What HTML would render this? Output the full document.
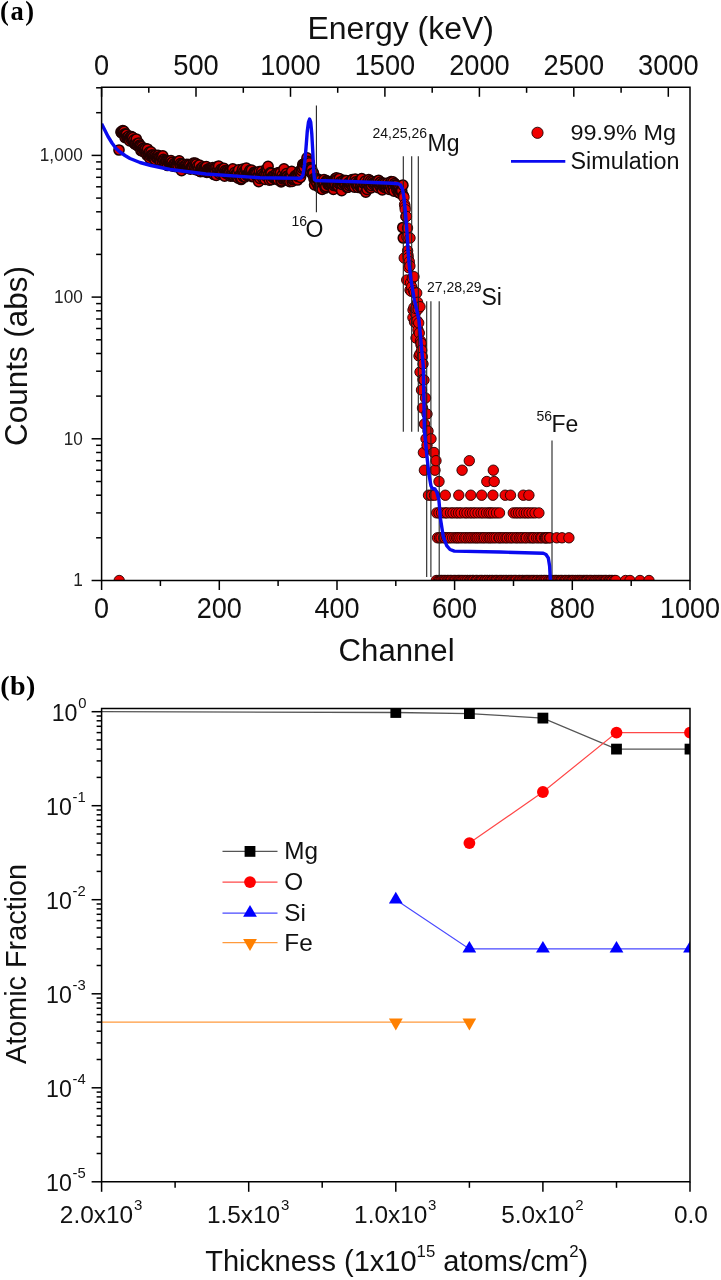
<!DOCTYPE html>
<html><head><meta charset="utf-8"><title>Figure</title>
<style>html,body{margin:0;padding:0;background:#fff}svg{display:block;filter:blur(0.45px)}</style>
</head><body>
<svg width="721" height="1280" viewBox="0 0 721 1280">
<rect width="721" height="1280" fill="#fff"/>
<defs>
<clipPath id="ca"><rect x="101.6" y="87.3" width="588.4" height="493.2"/></clipPath>
</defs>
<text x="0" y="20.3" letter-spacing="1.6" font-family="Liberation Serif, serif" font-weight="bold" font-size="26.5" fill="#000">(a)</text>
<text x="0.2" y="695.3" letter-spacing="0.5" font-family="Liberation Serif, serif" font-weight="bold" font-size="28" fill="#000">(b)</text>
<g clip-path="url(#ca)">
<g fill="#ee0000" stroke="#200000" stroke-width="0.9">
<circle cx="119.0" cy="150.0" r="5.1" stroke-width="1.5" fill="#d80000"/>
<circle cx="119.2" cy="580.5" r="5.2"/>
<circle cx="121.0" cy="132.0" r="5.1" stroke-width="1.5" fill="#d80000"/>
<circle cx="121.6" cy="132.8" r="5.1" stroke-width="1.5" fill="#d80000"/>
<circle cx="122.2" cy="131.7" r="5.1" stroke-width="1.5" fill="#d80000"/>
<circle cx="122.8" cy="130.5" r="5.1" stroke-width="1.5" fill="#d80000"/>
<circle cx="123.4" cy="131.9" r="5.1" stroke-width="1.5" fill="#d80000"/>
<circle cx="124.0" cy="131.3" r="5.1" stroke-width="1.5" fill="#d80000"/>
<circle cx="124.5" cy="134.2" r="5.1" stroke-width="1.5" fill="#d80000"/>
<circle cx="125.1" cy="137.6" r="5.1" stroke-width="1.5" fill="#d80000"/>
<circle cx="125.7" cy="134.1" r="5.1" stroke-width="1.5" fill="#d80000"/>
<circle cx="126.3" cy="134.4" r="5.1" stroke-width="1.5" fill="#d80000"/>
<circle cx="126.9" cy="137.5" r="5.1" stroke-width="1.5" fill="#d80000"/>
<circle cx="127.5" cy="137.8" r="5.1" stroke-width="1.5" fill="#d80000"/>
<circle cx="128.1" cy="137.8" r="5.1" stroke-width="1.5" fill="#d80000"/>
<circle cx="128.7" cy="136.1" r="5.1" stroke-width="1.5" fill="#d80000"/>
<circle cx="129.3" cy="138.7" r="5.1" stroke-width="1.5" fill="#d80000"/>
<circle cx="129.8" cy="140.9" r="5.1" stroke-width="1.5" fill="#d80000"/>
<circle cx="130.4" cy="136.9" r="5.1" stroke-width="1.5" fill="#d80000"/>
<circle cx="131.0" cy="139.3" r="5.1" stroke-width="1.5" fill="#d80000"/>
<circle cx="131.6" cy="136.6" r="5.1" stroke-width="1.5" fill="#d80000"/>
<circle cx="132.2" cy="138.4" r="5.1" stroke-width="1.5" fill="#d80000"/>
<circle cx="132.8" cy="137.7" r="5.1" stroke-width="1.5" fill="#d80000"/>
<circle cx="133.4" cy="141.7" r="5.1" stroke-width="1.5" fill="#d80000"/>
<circle cx="134.0" cy="139.9" r="5.1" stroke-width="1.5" fill="#d80000"/>
<circle cx="134.6" cy="143.7" r="5.1" stroke-width="1.5" fill="#d80000"/>
<circle cx="135.1" cy="144.0" r="5.1" stroke-width="1.5" fill="#d80000"/>
<circle cx="135.7" cy="143.7" r="5.1" stroke-width="1.5" fill="#d80000"/>
<circle cx="136.3" cy="139.0" r="5.1" stroke-width="1.5" fill="#d80000"/>
<circle cx="136.9" cy="143.8" r="5.1" stroke-width="1.5" fill="#d80000"/>
<circle cx="137.5" cy="145.4" r="5.1" stroke-width="1.5" fill="#d80000"/>
<circle cx="138.1" cy="146.2" r="5.1" stroke-width="1.5" fill="#d80000"/>
<circle cx="138.7" cy="143.1" r="5.1" stroke-width="1.5" fill="#d80000"/>
<circle cx="139.3" cy="145.9" r="5.1" stroke-width="1.5" fill="#d80000"/>
<circle cx="139.8" cy="145.2" r="5.1" stroke-width="1.5" fill="#d80000"/>
<circle cx="140.4" cy="146.0" r="5.1" stroke-width="1.5" fill="#d80000"/>
<circle cx="141.0" cy="150.5" r="5.1" stroke-width="1.5" fill="#d80000"/>
<circle cx="141.6" cy="146.8" r="5.1" stroke-width="1.5" fill="#d80000"/>
<circle cx="142.2" cy="148.9" r="5.1" stroke-width="1.5" fill="#d80000"/>
<circle cx="142.8" cy="151.3" r="5.1" stroke-width="1.5" fill="#d80000"/>
<circle cx="143.4" cy="148.4" r="5.1" stroke-width="1.5" fill="#d80000"/>
<circle cx="144.0" cy="149.8" r="5.1" stroke-width="1.5" fill="#d80000"/>
<circle cx="144.6" cy="150.7" r="5.1" stroke-width="1.5" fill="#d80000"/>
<circle cx="145.1" cy="151.0" r="5.1" stroke-width="1.5" fill="#d80000"/>
<circle cx="145.7" cy="148.5" r="5.1" stroke-width="1.5" fill="#d80000"/>
<circle cx="146.3" cy="151.8" r="5.1" stroke-width="1.5" fill="#d80000"/>
<circle cx="146.9" cy="155.0" r="5.1" stroke-width="1.5" fill="#d80000"/>
<circle cx="147.5" cy="149.0" r="5.1" stroke-width="1.5" fill="#d80000"/>
<circle cx="148.1" cy="154.6" r="5.1" stroke-width="1.5" fill="#d80000"/>
<circle cx="148.7" cy="153.4" r="5.1" stroke-width="1.5" fill="#d80000"/>
<circle cx="149.3" cy="152.1" r="5.1" stroke-width="1.5" fill="#d80000"/>
<circle cx="149.8" cy="158.3" r="5.1" stroke-width="1.5" fill="#d80000"/>
<circle cx="150.4" cy="155.9" r="5.1" stroke-width="1.5" fill="#d80000"/>
<circle cx="151.0" cy="151.9" r="5.1" stroke-width="1.5" fill="#d80000"/>
<circle cx="151.6" cy="155.0" r="5.1" stroke-width="1.5" fill="#d80000"/>
<circle cx="152.2" cy="156.4" r="5.1" stroke-width="1.5" fill="#d80000"/>
<circle cx="152.8" cy="155.0" r="5.1" stroke-width="1.5" fill="#d80000"/>
<circle cx="153.4" cy="157.2" r="5.1" stroke-width="1.5" fill="#d80000"/>
<circle cx="154.0" cy="155.8" r="5.1" stroke-width="1.5" fill="#d80000"/>
<circle cx="154.6" cy="157.7" r="5.1" stroke-width="1.5" fill="#d80000"/>
<circle cx="155.1" cy="159.7" r="5.1" stroke-width="1.5" fill="#d80000"/>
<circle cx="155.7" cy="155.4" r="5.1" stroke-width="1.5" fill="#d80000"/>
<circle cx="156.3" cy="157.6" r="5.1" stroke-width="1.5" fill="#d80000"/>
<circle cx="156.9" cy="156.4" r="5.1" stroke-width="1.5" fill="#d80000"/>
<circle cx="157.5" cy="158.0" r="5.1" stroke-width="1.5" fill="#d80000"/>
<circle cx="158.1" cy="155.4" r="5.1" stroke-width="1.5" fill="#d80000"/>
<circle cx="158.7" cy="157.1" r="5.1" stroke-width="1.5" fill="#d80000"/>
<circle cx="159.3" cy="158.2" r="5.1" stroke-width="1.5" fill="#d80000"/>
<circle cx="159.9" cy="160.9" r="5.1" stroke-width="1.5" fill="#d80000"/>
<circle cx="160.4" cy="161.7" r="5.1" stroke-width="1.5" fill="#d80000"/>
<circle cx="161.0" cy="156.5" r="5.1" stroke-width="1.5" fill="#d80000"/>
<circle cx="161.6" cy="157.9" r="5.1" stroke-width="1.5" fill="#d80000"/>
<circle cx="162.2" cy="161.4" r="5.1" stroke-width="1.5" fill="#d80000"/>
<circle cx="162.8" cy="155.8" r="5.1" stroke-width="1.5" fill="#d80000"/>
<circle cx="163.4" cy="159.4" r="5.1" stroke-width="1.5" fill="#d80000"/>
<circle cx="164.0" cy="160.5" r="5.1" stroke-width="1.5" fill="#d80000"/>
<circle cx="164.6" cy="163.7" r="5.1" stroke-width="1.5" fill="#d80000"/>
<circle cx="165.1" cy="162.7" r="5.1" stroke-width="1.5" fill="#d80000"/>
<circle cx="165.7" cy="160.7" r="5.1" stroke-width="1.5" fill="#d80000"/>
<circle cx="166.3" cy="160.9" r="5.1" stroke-width="1.5" fill="#d80000"/>
<circle cx="166.9" cy="161.4" r="5.1" stroke-width="1.5" fill="#d80000"/>
<circle cx="167.5" cy="165.5" r="5.1" stroke-width="1.5" fill="#d80000"/>
<circle cx="168.1" cy="161.4" r="5.1" stroke-width="1.5" fill="#d80000"/>
<circle cx="168.7" cy="161.8" r="5.1" stroke-width="1.5" fill="#d80000"/>
<circle cx="169.3" cy="163.4" r="5.1" stroke-width="1.5" fill="#d80000"/>
<circle cx="169.9" cy="162.5" r="5.1" stroke-width="1.5" fill="#d80000"/>
<circle cx="170.4" cy="162.5" r="5.1" stroke-width="1.5" fill="#d80000"/>
<circle cx="171.0" cy="160.6" r="5.1" stroke-width="1.5" fill="#d80000"/>
<circle cx="171.6" cy="163.2" r="5.1" stroke-width="1.5" fill="#d80000"/>
<circle cx="172.2" cy="162.4" r="5.1" stroke-width="1.5" fill="#d80000"/>
<circle cx="172.8" cy="166.1" r="5.1" stroke-width="1.5" fill="#d80000"/>
<circle cx="173.4" cy="165.2" r="5.1" stroke-width="1.5" fill="#d80000"/>
<circle cx="174.0" cy="163.8" r="5.1" stroke-width="1.5" fill="#d80000"/>
<circle cx="174.6" cy="165.5" r="5.1" stroke-width="1.5" fill="#d80000"/>
<circle cx="175.1" cy="163.4" r="5.1" stroke-width="1.5" fill="#d80000"/>
<circle cx="175.7" cy="166.7" r="5.1" stroke-width="1.5" fill="#d80000"/>
<circle cx="176.3" cy="164.5" r="5.1" stroke-width="1.5" fill="#d80000"/>
<circle cx="176.9" cy="166.0" r="5.1" stroke-width="1.5" fill="#d80000"/>
<circle cx="177.5" cy="162.0" r="5.1" stroke-width="1.5" fill="#d80000"/>
<circle cx="178.1" cy="165.7" r="5.1" stroke-width="1.5" fill="#d80000"/>
<circle cx="178.7" cy="161.4" r="5.1" stroke-width="1.5" fill="#d80000"/>
<circle cx="179.3" cy="160.8" r="5.1" stroke-width="1.5" fill="#d80000"/>
<circle cx="179.9" cy="164.8" r="5.1" stroke-width="1.5" fill="#d80000"/>
<circle cx="180.4" cy="163.6" r="5.1" stroke-width="1.5" fill="#d80000"/>
<circle cx="181.0" cy="166.0" r="5.1" stroke-width="1.5" fill="#d80000"/>
<circle cx="181.6" cy="170.7" r="5.1" stroke-width="1.5" fill="#d80000"/>
<circle cx="182.2" cy="164.0" r="5.1" stroke-width="1.5" fill="#d80000"/>
<circle cx="182.8" cy="164.5" r="5.1" stroke-width="1.5" fill="#d80000"/>
<circle cx="183.4" cy="166.5" r="5.1" stroke-width="1.5" fill="#d80000"/>
<circle cx="184.0" cy="167.2" r="5.1" stroke-width="1.5" fill="#d80000"/>
<circle cx="184.6" cy="165.8" r="5.1" stroke-width="1.5" fill="#d80000"/>
<circle cx="185.2" cy="165.8" r="5.1" stroke-width="1.5" fill="#d80000"/>
<circle cx="185.7" cy="167.9" r="5.1" stroke-width="1.5" fill="#d80000"/>
<circle cx="186.3" cy="167.6" r="5.1" stroke-width="1.5" fill="#d80000"/>
<circle cx="186.9" cy="164.3" r="5.1" stroke-width="1.5" fill="#d80000"/>
<circle cx="187.5" cy="166.5" r="5.1" stroke-width="1.5" fill="#d80000"/>
<circle cx="188.1" cy="166.8" r="5.1" stroke-width="1.5" fill="#d80000"/>
<circle cx="188.7" cy="164.5" r="5.1" stroke-width="1.5" fill="#d80000"/>
<circle cx="189.3" cy="167.5" r="5.1" stroke-width="1.5" fill="#d80000"/>
<circle cx="189.9" cy="165.1" r="5.1" stroke-width="1.5" fill="#d80000"/>
<circle cx="190.4" cy="169.2" r="5.1" stroke-width="1.5" fill="#d80000"/>
<circle cx="191.0" cy="167.6" r="5.1" stroke-width="1.5" fill="#d80000"/>
<circle cx="191.6" cy="167.4" r="5.1" stroke-width="1.5" fill="#d80000"/>
<circle cx="192.2" cy="166.0" r="5.1" stroke-width="1.5" fill="#d80000"/>
<circle cx="192.8" cy="167.2" r="5.1" stroke-width="1.5" fill="#d80000"/>
<circle cx="193.4" cy="163.1" r="5.1" stroke-width="1.5" fill="#d80000"/>
<circle cx="194.0" cy="165.1" r="5.1" stroke-width="1.5" fill="#d80000"/>
<circle cx="194.6" cy="168.5" r="5.1" stroke-width="1.5" fill="#d80000"/>
<circle cx="195.2" cy="163.1" r="5.1" stroke-width="1.5" fill="#d80000"/>
<circle cx="195.7" cy="169.7" r="5.1" stroke-width="1.5" fill="#d80000"/>
<circle cx="196.3" cy="164.1" r="5.1" stroke-width="1.5" fill="#d80000"/>
<circle cx="196.9" cy="169.7" r="5.1" stroke-width="1.5" fill="#d80000"/>
<circle cx="197.5" cy="166.3" r="5.1" stroke-width="1.5" fill="#d80000"/>
<circle cx="198.1" cy="169.9" r="5.1" stroke-width="1.5" fill="#d80000"/>
<circle cx="198.7" cy="168.6" r="5.1" stroke-width="1.5" fill="#d80000"/>
<circle cx="199.3" cy="165.0" r="5.1" stroke-width="1.5" fill="#d80000"/>
<circle cx="199.9" cy="171.2" r="5.1" stroke-width="1.5" fill="#d80000"/>
<circle cx="200.5" cy="171.7" r="5.1" stroke-width="1.5" fill="#d80000"/>
<circle cx="201.0" cy="168.5" r="5.1" stroke-width="1.5" fill="#d80000"/>
<circle cx="201.6" cy="168.2" r="5.1" stroke-width="1.5" fill="#d80000"/>
<circle cx="202.2" cy="168.5" r="5.1" stroke-width="1.5" fill="#d80000"/>
<circle cx="202.8" cy="166.8" r="5.1" stroke-width="1.5" fill="#d80000"/>
<circle cx="203.4" cy="171.5" r="5.1" stroke-width="1.5" fill="#d80000"/>
<circle cx="204.0" cy="168.0" r="5.1" stroke-width="1.5" fill="#d80000"/>
<circle cx="204.6" cy="169.1" r="5.1" stroke-width="1.5" fill="#d80000"/>
<circle cx="205.2" cy="167.6" r="5.1" stroke-width="1.5" fill="#d80000"/>
<circle cx="205.7" cy="168.1" r="5.1" stroke-width="1.5" fill="#d80000"/>
<circle cx="206.3" cy="166.7" r="5.1" stroke-width="1.5" fill="#d80000"/>
<circle cx="206.9" cy="172.4" r="5.1" stroke-width="1.5" fill="#d80000"/>
<circle cx="207.5" cy="169.4" r="5.1" stroke-width="1.5" fill="#d80000"/>
<circle cx="208.1" cy="172.0" r="5.1" stroke-width="1.5" fill="#d80000"/>
<circle cx="208.7" cy="170.0" r="5.1" stroke-width="1.5" fill="#d80000"/>
<circle cx="209.3" cy="168.5" r="5.1" stroke-width="1.5" fill="#d80000"/>
<circle cx="209.9" cy="169.4" r="5.1" stroke-width="1.5" fill="#d80000"/>
<circle cx="210.5" cy="169.0" r="5.1" stroke-width="1.5" fill="#d80000"/>
<circle cx="211.0" cy="170.4" r="5.1" stroke-width="1.5" fill="#d80000"/>
<circle cx="211.6" cy="169.6" r="5.1" stroke-width="1.5" fill="#d80000"/>
<circle cx="212.2" cy="169.9" r="5.1" stroke-width="1.5" fill="#d80000"/>
<circle cx="212.8" cy="167.6" r="5.1" stroke-width="1.5" fill="#d80000"/>
<circle cx="213.4" cy="169.0" r="5.1" stroke-width="1.5" fill="#d80000"/>
<circle cx="214.0" cy="174.5" r="5.1" stroke-width="1.5" fill="#d80000"/>
<circle cx="214.6" cy="169.5" r="5.1" stroke-width="1.5" fill="#d80000"/>
<circle cx="215.2" cy="167.9" r="5.1" stroke-width="1.5" fill="#d80000"/>
<circle cx="215.7" cy="172.1" r="5.1" stroke-width="1.5" fill="#d80000"/>
<circle cx="216.3" cy="175.4" r="5.1" stroke-width="1.5" fill="#d80000"/>
<circle cx="216.9" cy="166.9" r="5.1" stroke-width="1.5" fill="#d80000"/>
<circle cx="217.5" cy="170.7" r="5.1" stroke-width="1.5" fill="#d80000"/>
<circle cx="218.1" cy="169.4" r="5.1" stroke-width="1.5" fill="#d80000"/>
<circle cx="218.7" cy="166.1" r="5.1" stroke-width="1.5" fill="#d80000"/>
<circle cx="219.3" cy="173.7" r="5.1" stroke-width="1.5" fill="#d80000"/>
<circle cx="219.9" cy="171.5" r="5.1" stroke-width="1.5" fill="#d80000"/>
<circle cx="220.5" cy="171.8" r="5.1" stroke-width="1.5" fill="#d80000"/>
<circle cx="221.0" cy="169.4" r="5.1" stroke-width="1.5" fill="#d80000"/>
<circle cx="221.6" cy="173.1" r="5.1" stroke-width="1.5" fill="#d80000"/>
<circle cx="222.2" cy="170.2" r="5.1" stroke-width="1.5" fill="#d80000"/>
<circle cx="222.8" cy="171.4" r="5.1" stroke-width="1.5" fill="#d80000"/>
<circle cx="223.4" cy="168.6" r="5.1" stroke-width="1.5" fill="#d80000"/>
<circle cx="224.0" cy="168.4" r="5.1" stroke-width="1.5" fill="#d80000"/>
<circle cx="224.6" cy="176.1" r="5.1" stroke-width="1.5" fill="#d80000"/>
<circle cx="225.2" cy="170.6" r="5.1" stroke-width="1.5" fill="#d80000"/>
<circle cx="225.8" cy="173.1" r="5.1" stroke-width="1.5" fill="#d80000"/>
<circle cx="226.3" cy="172.2" r="5.1" stroke-width="1.5" fill="#d80000"/>
<circle cx="226.9" cy="171.0" r="5.1" stroke-width="1.5" fill="#d80000"/>
<circle cx="227.5" cy="170.9" r="5.1" stroke-width="1.5" fill="#d80000"/>
<circle cx="228.1" cy="174.3" r="5.1" stroke-width="1.5" fill="#d80000"/>
<circle cx="228.7" cy="171.6" r="5.1" stroke-width="1.5" fill="#d80000"/>
<circle cx="229.3" cy="172.1" r="5.1" stroke-width="1.5" fill="#d80000"/>
<circle cx="229.9" cy="172.7" r="5.1" stroke-width="1.5" fill="#d80000"/>
<circle cx="230.5" cy="176.2" r="5.1" stroke-width="1.5" fill="#d80000"/>
<circle cx="231.0" cy="174.8" r="5.1" stroke-width="1.5" fill="#d80000"/>
<circle cx="231.6" cy="174.0" r="5.1" stroke-width="1.5" fill="#d80000"/>
<circle cx="232.2" cy="171.2" r="5.1" stroke-width="1.5" fill="#d80000"/>
<circle cx="232.8" cy="168.8" r="5.1" stroke-width="1.5" fill="#d80000"/>
<circle cx="233.4" cy="175.9" r="5.1" stroke-width="1.5" fill="#d80000"/>
<circle cx="234.0" cy="176.0" r="5.1" stroke-width="1.5" fill="#d80000"/>
<circle cx="234.6" cy="172.7" r="5.1" stroke-width="1.5" fill="#d80000"/>
<circle cx="235.2" cy="174.9" r="5.1" stroke-width="1.5" fill="#d80000"/>
<circle cx="235.8" cy="175.6" r="5.1" stroke-width="1.5" fill="#d80000"/>
<circle cx="236.3" cy="175.9" r="5.1" stroke-width="1.5" fill="#d80000"/>
<circle cx="236.9" cy="176.2" r="5.1" stroke-width="1.5" fill="#d80000"/>
<circle cx="237.5" cy="172.1" r="5.1" stroke-width="1.5" fill="#d80000"/>
<circle cx="238.1" cy="178.1" r="5.1" stroke-width="1.5" fill="#d80000"/>
<circle cx="238.7" cy="169.9" r="5.1" stroke-width="1.5" fill="#d80000"/>
<circle cx="239.3" cy="176.3" r="5.1" stroke-width="1.5" fill="#d80000"/>
<circle cx="239.9" cy="175.2" r="5.1" stroke-width="1.5" fill="#d80000"/>
<circle cx="240.5" cy="176.4" r="5.1" stroke-width="1.5" fill="#d80000"/>
<circle cx="241.1" cy="179.5" r="5.1" stroke-width="1.5" fill="#d80000"/>
<circle cx="241.6" cy="178.4" r="5.1" stroke-width="1.5" fill="#d80000"/>
<circle cx="242.2" cy="170.6" r="5.1" stroke-width="1.5" fill="#d80000"/>
<circle cx="242.8" cy="169.0" r="5.1" stroke-width="1.5" fill="#d80000"/>
<circle cx="243.4" cy="176.6" r="5.1" stroke-width="1.5" fill="#d80000"/>
<circle cx="244.0" cy="171.1" r="5.1" stroke-width="1.5" fill="#d80000"/>
<circle cx="244.6" cy="174.2" r="5.1" stroke-width="1.5" fill="#d80000"/>
<circle cx="245.2" cy="176.8" r="5.1" stroke-width="1.5" fill="#d80000"/>
<circle cx="245.8" cy="169.5" r="5.1" stroke-width="1.5" fill="#d80000"/>
<circle cx="246.3" cy="168.1" r="5.1" stroke-width="1.5" fill="#d80000"/>
<circle cx="246.9" cy="175.3" r="5.1" stroke-width="1.5" fill="#d80000"/>
<circle cx="247.5" cy="174.7" r="5.1" stroke-width="1.5" fill="#d80000"/>
<circle cx="248.1" cy="173.9" r="5.1" stroke-width="1.5" fill="#d80000"/>
<circle cx="248.7" cy="174.8" r="5.1" stroke-width="1.5" fill="#d80000"/>
<circle cx="249.3" cy="172.2" r="5.1" stroke-width="1.5" fill="#d80000"/>
<circle cx="249.9" cy="170.3" r="5.1" stroke-width="1.5" fill="#d80000"/>
<circle cx="250.5" cy="174.4" r="5.1" stroke-width="1.5" fill="#d80000"/>
<circle cx="251.1" cy="172.0" r="5.1" stroke-width="1.5" fill="#d80000"/>
<circle cx="251.6" cy="170.1" r="5.1" stroke-width="1.5" fill="#d80000"/>
<circle cx="252.2" cy="176.6" r="5.1" stroke-width="1.5" fill="#d80000"/>
<circle cx="252.8" cy="175.0" r="5.1" stroke-width="1.5" fill="#d80000"/>
<circle cx="253.4" cy="176.4" r="5.1" stroke-width="1.5" fill="#d80000"/>
<circle cx="254.0" cy="172.3" r="5.1" stroke-width="1.5" fill="#d80000"/>
<circle cx="254.6" cy="173.4" r="5.1" stroke-width="1.5" fill="#d80000"/>
<circle cx="255.2" cy="172.4" r="5.1" stroke-width="1.5" fill="#d80000"/>
<circle cx="255.8" cy="172.8" r="5.1" stroke-width="1.5" fill="#d80000"/>
<circle cx="256.3" cy="176.1" r="5.1" stroke-width="1.5" fill="#d80000"/>
<circle cx="256.9" cy="173.2" r="5.1" stroke-width="1.5" fill="#d80000"/>
<circle cx="257.5" cy="176.6" r="5.1" stroke-width="1.5" fill="#d80000"/>
<circle cx="258.1" cy="176.6" r="5.1" stroke-width="1.5" fill="#d80000"/>
<circle cx="258.7" cy="181.7" r="5.1" stroke-width="1.5" fill="#d80000"/>
<circle cx="259.3" cy="171.5" r="5.1" stroke-width="1.5" fill="#d80000"/>
<circle cx="259.9" cy="178.3" r="5.1" stroke-width="1.5" fill="#d80000"/>
<circle cx="260.5" cy="175.4" r="5.1" stroke-width="1.5" fill="#d80000"/>
<circle cx="261.1" cy="175.7" r="5.1" stroke-width="1.5" fill="#d80000"/>
<circle cx="261.6" cy="171.4" r="5.1" stroke-width="1.5" fill="#d80000"/>
<circle cx="262.2" cy="174.4" r="5.1" stroke-width="1.5" fill="#d80000"/>
<circle cx="262.8" cy="178.0" r="5.1" stroke-width="1.5" fill="#d80000"/>
<circle cx="263.4" cy="175.6" r="5.1" stroke-width="1.5" fill="#d80000"/>
<circle cx="264.0" cy="176.1" r="5.1" stroke-width="1.5" fill="#d80000"/>
<circle cx="264.6" cy="175.0" r="5.1" stroke-width="1.5" fill="#d80000"/>
<circle cx="265.2" cy="179.4" r="5.1" stroke-width="1.5" fill="#d80000"/>
<circle cx="265.8" cy="175.9" r="5.1" stroke-width="1.5" fill="#d80000"/>
<circle cx="266.4" cy="169.4" r="5.1" stroke-width="1.5" fill="#d80000"/>
<circle cx="266.9" cy="173.9" r="5.1" stroke-width="1.5" fill="#d80000"/>
<circle cx="267.5" cy="170.1" r="5.1" stroke-width="1.5" fill="#d80000"/>
<circle cx="268.1" cy="166.3" r="5.1" stroke-width="1.5" fill="#d80000"/>
<circle cx="268.7" cy="174.5" r="5.1" stroke-width="1.5" fill="#d80000"/>
<circle cx="269.3" cy="180.1" r="5.1" stroke-width="1.5" fill="#d80000"/>
<circle cx="269.9" cy="176.3" r="5.1" stroke-width="1.5" fill="#d80000"/>
<circle cx="270.5" cy="172.6" r="5.1" stroke-width="1.5" fill="#d80000"/>
<circle cx="271.1" cy="173.3" r="5.1" stroke-width="1.5" fill="#d80000"/>
<circle cx="271.6" cy="179.6" r="5.1" stroke-width="1.5" fill="#d80000"/>
<circle cx="272.2" cy="176.7" r="5.1" stroke-width="1.5" fill="#d80000"/>
<circle cx="272.8" cy="176.4" r="5.1" stroke-width="1.5" fill="#d80000"/>
<circle cx="273.4" cy="176.1" r="5.1" stroke-width="1.5" fill="#d80000"/>
<circle cx="274.0" cy="176.4" r="5.1" stroke-width="1.5" fill="#d80000"/>
<circle cx="274.6" cy="178.7" r="5.1" stroke-width="1.5" fill="#d80000"/>
<circle cx="275.2" cy="178.0" r="5.1" stroke-width="1.5" fill="#d80000"/>
<circle cx="275.8" cy="177.0" r="5.1" stroke-width="1.5" fill="#d80000"/>
<circle cx="276.4" cy="173.3" r="5.1" stroke-width="1.5" fill="#d80000"/>
<circle cx="276.9" cy="178.0" r="5.1" stroke-width="1.5" fill="#d80000"/>
<circle cx="277.5" cy="174.4" r="5.1" stroke-width="1.5" fill="#d80000"/>
<circle cx="278.1" cy="179.8" r="5.1" stroke-width="1.5" fill="#d80000"/>
<circle cx="278.7" cy="172.7" r="5.1" stroke-width="1.5" fill="#d80000"/>
<circle cx="279.3" cy="176.1" r="5.1" stroke-width="1.5" fill="#d80000"/>
<circle cx="279.9" cy="176.5" r="5.1" stroke-width="1.5" fill="#d80000"/>
<circle cx="280.5" cy="172.6" r="5.1" stroke-width="1.5" fill="#d80000"/>
<circle cx="281.1" cy="181.8" r="5.1" stroke-width="1.5" fill="#d80000"/>
<circle cx="281.7" cy="181.0" r="5.1" stroke-width="1.5" fill="#d80000"/>
<circle cx="282.2" cy="175.3" r="5.1" stroke-width="1.5" fill="#d80000"/>
<circle cx="282.8" cy="179.0" r="5.1" stroke-width="1.5" fill="#d80000"/>
<circle cx="283.4" cy="177.8" r="5.1" stroke-width="1.5" fill="#d80000"/>
<circle cx="284.0" cy="168.9" r="5.1" stroke-width="1.5" fill="#d80000"/>
<circle cx="284.6" cy="177.5" r="5.1" stroke-width="1.5" fill="#d80000"/>
<circle cx="285.2" cy="176.6" r="5.1" stroke-width="1.5" fill="#d80000"/>
<circle cx="285.8" cy="177.1" r="5.1" stroke-width="1.5" fill="#d80000"/>
<circle cx="286.4" cy="173.6" r="5.1" stroke-width="1.5" fill="#d80000"/>
<circle cx="286.9" cy="176.1" r="5.1" stroke-width="1.5" fill="#d80000"/>
<circle cx="287.5" cy="176.4" r="5.1" stroke-width="1.5" fill="#d80000"/>
<circle cx="288.1" cy="180.5" r="5.1" stroke-width="1.5" fill="#d80000"/>
<circle cx="288.7" cy="177.9" r="5.1" stroke-width="1.5" fill="#d80000"/>
<circle cx="289.3" cy="177.0" r="5.1" stroke-width="1.5" fill="#d80000"/>
<circle cx="289.9" cy="181.6" r="5.1" stroke-width="1.5" fill="#d80000"/>
<circle cx="290.5" cy="175.3" r="5.1" stroke-width="1.5" fill="#d80000"/>
<circle cx="291.1" cy="175.7" r="5.1" stroke-width="1.5" fill="#d80000"/>
<circle cx="291.7" cy="171.3" r="5.1" stroke-width="1.5" fill="#d80000"/>
<circle cx="292.2" cy="181.4" r="5.1" stroke-width="1.5" fill="#d80000"/>
<circle cx="292.8" cy="179.5" r="5.1" stroke-width="1.5" fill="#d80000"/>
<circle cx="293.4" cy="179.3" r="5.1" stroke-width="1.5" fill="#d80000"/>
<circle cx="294.0" cy="178.4" r="5.1" stroke-width="1.5" fill="#d80000"/>
<circle cx="294.6" cy="176.7" r="5.1" stroke-width="1.5" fill="#d80000"/>
<circle cx="295.2" cy="176.9" r="5.1" stroke-width="1.5" fill="#d80000"/>
<circle cx="295.8" cy="175.4" r="5.1" stroke-width="1.5" fill="#d80000"/>
<circle cx="296.4" cy="175.5" r="5.1" stroke-width="1.5" fill="#d80000"/>
<circle cx="296.9" cy="176.2" r="5.1" stroke-width="1.5" fill="#d80000"/>
<circle cx="297.5" cy="180.0" r="5.1" stroke-width="1.5" fill="#d80000"/>
<circle cx="298.1" cy="176.5" r="5.1" stroke-width="1.5" fill="#d80000"/>
<circle cx="298.7" cy="174.1" r="5.1" stroke-width="1.5" fill="#d80000"/>
<circle cx="299.3" cy="172.0" r="5.1" stroke-width="1.5" fill="#d80000"/>
<circle cx="299.9" cy="171.2" r="5.1" stroke-width="1.5" fill="#d80000"/>
<circle cx="300.5" cy="177.3" r="5.1" stroke-width="1.5" fill="#d80000"/>
<circle cx="301.1" cy="173.4" r="5.1" stroke-width="1.5" fill="#d80000"/>
<circle cx="301.7" cy="170.7" r="5.1" stroke-width="1.5" fill="#d80000"/>
<circle cx="302.2" cy="168.1" r="5.1" stroke-width="1.5" fill="#d80000"/>
<circle cx="302.8" cy="164.4" r="5.1" stroke-width="1.5" fill="#d80000"/>
<circle cx="303.4" cy="166.1" r="5.1" stroke-width="1.5" fill="#d80000"/>
<circle cx="304.0" cy="167.6" r="5.1" stroke-width="1.5" fill="#d80000"/>
<circle cx="304.6" cy="163.3" r="5.1" stroke-width="1.5" fill="#d80000"/>
<circle cx="305.2" cy="163.3" r="5.1" stroke-width="1.5" fill="#d80000"/>
<circle cx="305.8" cy="162.9" r="5.1" stroke-width="1.5" fill="#d80000"/>
<circle cx="306.4" cy="163.4" r="5.1" stroke-width="1.5" fill="#d80000"/>
<circle cx="307.0" cy="157.8" r="5.1" stroke-width="1.5" fill="#d80000"/>
<circle cx="307.5" cy="162.4" r="5.1" stroke-width="1.5" fill="#d80000"/>
<circle cx="308.1" cy="161.3" r="5.1" stroke-width="1.5" fill="#d80000"/>
<circle cx="308.7" cy="167.2" r="5.1" stroke-width="1.5" fill="#d80000"/>
<circle cx="309.3" cy="162.9" r="5.1" stroke-width="1.5" fill="#d80000"/>
<circle cx="309.9" cy="167.6" r="5.1" stroke-width="1.5" fill="#d80000"/>
<circle cx="310.5" cy="172.0" r="5.1" stroke-width="1.5" fill="#d80000"/>
<circle cx="311.1" cy="168.3" r="5.1" stroke-width="1.5" fill="#d80000"/>
<circle cx="311.7" cy="169.2" r="5.1" stroke-width="1.5" fill="#d80000"/>
<circle cx="312.2" cy="173.3" r="5.1" stroke-width="1.5" fill="#d80000"/>
<circle cx="312.8" cy="174.5" r="5.1" stroke-width="1.5" fill="#d80000"/>
<circle cx="313.4" cy="173.0" r="5.1" stroke-width="1.5" fill="#d80000"/>
<circle cx="314.0" cy="178.7" r="5.1" stroke-width="1.5" fill="#d80000"/>
<circle cx="314.6" cy="184.8" r="5.1" stroke-width="1.5" fill="#d80000"/>
<circle cx="315.2" cy="179.3" r="5.1" stroke-width="1.5" fill="#d80000"/>
<circle cx="315.8" cy="180.9" r="5.1" stroke-width="1.5" fill="#d80000"/>
<circle cx="316.4" cy="179.0" r="5.1" stroke-width="1.5" fill="#d80000"/>
<circle cx="317.0" cy="183.3" r="5.1" stroke-width="1.5" fill="#d80000"/>
<circle cx="317.5" cy="178.8" r="5.1" stroke-width="1.5" fill="#d80000"/>
<circle cx="318.1" cy="179.5" r="5.1" stroke-width="1.5" fill="#d80000"/>
<circle cx="318.7" cy="186.9" r="5.1" stroke-width="1.5" fill="#d80000"/>
<circle cx="319.3" cy="180.5" r="5.1" stroke-width="1.5" fill="#d80000"/>
<circle cx="319.9" cy="186.7" r="5.1" stroke-width="1.5" fill="#d80000"/>
<circle cx="320.5" cy="188.1" r="5.1" stroke-width="1.5" fill="#d80000"/>
<circle cx="321.1" cy="184.3" r="5.1" stroke-width="1.5" fill="#d80000"/>
<circle cx="321.7" cy="185.2" r="5.1" stroke-width="1.5" fill="#d80000"/>
<circle cx="322.2" cy="189.4" r="5.1" stroke-width="1.5" fill="#d80000"/>
<circle cx="322.8" cy="183.0" r="5.1" stroke-width="1.5" fill="#d80000"/>
<circle cx="323.4" cy="181.8" r="5.1" stroke-width="1.5" fill="#d80000"/>
<circle cx="324.0" cy="179.5" r="5.1" stroke-width="1.5" fill="#d80000"/>
<circle cx="324.6" cy="183.7" r="5.1" stroke-width="1.5" fill="#d80000"/>
<circle cx="325.2" cy="188.0" r="5.1" stroke-width="1.5" fill="#d80000"/>
<circle cx="325.8" cy="186.5" r="5.1" stroke-width="1.5" fill="#d80000"/>
<circle cx="326.4" cy="180.8" r="5.1" stroke-width="1.5" fill="#d80000"/>
<circle cx="327.0" cy="181.0" r="5.1" stroke-width="1.5" fill="#d80000"/>
<circle cx="327.5" cy="182.1" r="5.1" stroke-width="1.5" fill="#d80000"/>
<circle cx="328.1" cy="184.5" r="5.1" stroke-width="1.5" fill="#d80000"/>
<circle cx="328.7" cy="183.0" r="5.1" stroke-width="1.5" fill="#d80000"/>
<circle cx="329.3" cy="184.3" r="5.1" stroke-width="1.5" fill="#d80000"/>
<circle cx="329.9" cy="184.6" r="5.1" stroke-width="1.5" fill="#d80000"/>
<circle cx="330.5" cy="182.8" r="5.1" stroke-width="1.5" fill="#d80000"/>
<circle cx="331.1" cy="183.6" r="5.1" stroke-width="1.5" fill="#d80000"/>
<circle cx="331.7" cy="184.3" r="5.1" stroke-width="1.5" fill="#d80000"/>
<circle cx="332.3" cy="183.5" r="5.1" stroke-width="1.5" fill="#d80000"/>
<circle cx="332.8" cy="185.2" r="5.1" stroke-width="1.5" fill="#d80000"/>
<circle cx="333.4" cy="189.3" r="5.1" stroke-width="1.5" fill="#d80000"/>
<circle cx="334.0" cy="185.5" r="5.1" stroke-width="1.5" fill="#d80000"/>
<circle cx="334.6" cy="183.9" r="5.1" stroke-width="1.5" fill="#d80000"/>
<circle cx="335.2" cy="178.7" r="5.1" stroke-width="1.5" fill="#d80000"/>
<circle cx="335.8" cy="184.9" r="5.1" stroke-width="1.5" fill="#d80000"/>
<circle cx="336.4" cy="177.9" r="5.1" stroke-width="1.5" fill="#d80000"/>
<circle cx="337.0" cy="179.6" r="5.1" stroke-width="1.5" fill="#d80000"/>
<circle cx="337.5" cy="186.4" r="5.1" stroke-width="1.5" fill="#d80000"/>
<circle cx="338.1" cy="185.9" r="5.1" stroke-width="1.5" fill="#d80000"/>
<circle cx="338.7" cy="183.4" r="5.1" stroke-width="1.5" fill="#d80000"/>
<circle cx="339.3" cy="178.7" r="5.1" stroke-width="1.5" fill="#d80000"/>
<circle cx="339.9" cy="182.7" r="5.1" stroke-width="1.5" fill="#d80000"/>
<circle cx="340.5" cy="181.8" r="5.1" stroke-width="1.5" fill="#d80000"/>
<circle cx="341.1" cy="185.8" r="5.1" stroke-width="1.5" fill="#d80000"/>
<circle cx="341.7" cy="190.6" r="5.1" stroke-width="1.5" fill="#d80000"/>
<circle cx="342.3" cy="184.5" r="5.1" stroke-width="1.5" fill="#d80000"/>
<circle cx="342.8" cy="181.5" r="5.1" stroke-width="1.5" fill="#d80000"/>
<circle cx="343.4" cy="180.4" r="5.1" stroke-width="1.5" fill="#d80000"/>
<circle cx="344.0" cy="183.7" r="5.1" stroke-width="1.5" fill="#d80000"/>
<circle cx="344.6" cy="183.4" r="5.1" stroke-width="1.5" fill="#d80000"/>
<circle cx="345.2" cy="180.5" r="5.1" stroke-width="1.5" fill="#d80000"/>
<circle cx="345.8" cy="184.3" r="5.1" stroke-width="1.5" fill="#d80000"/>
<circle cx="346.4" cy="180.5" r="5.1" stroke-width="1.5" fill="#d80000"/>
<circle cx="347.0" cy="187.3" r="5.1" stroke-width="1.5" fill="#d80000"/>
<circle cx="347.6" cy="187.1" r="5.1" stroke-width="1.5" fill="#d80000"/>
<circle cx="348.1" cy="187.2" r="5.1" stroke-width="1.5" fill="#d80000"/>
<circle cx="348.7" cy="182.6" r="5.1" stroke-width="1.5" fill="#d80000"/>
<circle cx="349.3" cy="185.5" r="5.1" stroke-width="1.5" fill="#d80000"/>
<circle cx="349.9" cy="183.6" r="5.1" stroke-width="1.5" fill="#d80000"/>
<circle cx="350.5" cy="182.9" r="5.1" stroke-width="1.5" fill="#d80000"/>
<circle cx="351.1" cy="183.0" r="5.1" stroke-width="1.5" fill="#d80000"/>
<circle cx="351.7" cy="180.2" r="5.1" stroke-width="1.5" fill="#d80000"/>
<circle cx="352.3" cy="179.7" r="5.1" stroke-width="1.5" fill="#d80000"/>
<circle cx="352.8" cy="186.5" r="5.1" stroke-width="1.5" fill="#d80000"/>
<circle cx="353.4" cy="183.5" r="5.1" stroke-width="1.5" fill="#d80000"/>
<circle cx="354.0" cy="184.8" r="5.1" stroke-width="1.5" fill="#d80000"/>
<circle cx="354.6" cy="187.2" r="5.1" stroke-width="1.5" fill="#d80000"/>
<circle cx="355.2" cy="179.0" r="5.1" stroke-width="1.5" fill="#d80000"/>
<circle cx="355.8" cy="181.8" r="5.1" stroke-width="1.5" fill="#d80000"/>
<circle cx="356.4" cy="184.7" r="5.1" stroke-width="1.5" fill="#d80000"/>
<circle cx="357.0" cy="185.4" r="5.1" stroke-width="1.5" fill="#d80000"/>
<circle cx="357.6" cy="183.1" r="5.1" stroke-width="1.5" fill="#d80000"/>
<circle cx="358.1" cy="187.4" r="5.1" stroke-width="1.5" fill="#d80000"/>
<circle cx="358.7" cy="184.9" r="5.1" stroke-width="1.5" fill="#d80000"/>
<circle cx="359.3" cy="180.7" r="5.1" stroke-width="1.5" fill="#d80000"/>
<circle cx="359.9" cy="181.5" r="5.1" stroke-width="1.5" fill="#d80000"/>
<circle cx="360.5" cy="186.8" r="5.1" stroke-width="1.5" fill="#d80000"/>
<circle cx="361.1" cy="185.8" r="5.1" stroke-width="1.5" fill="#d80000"/>
<circle cx="361.7" cy="178.7" r="5.1" stroke-width="1.5" fill="#d80000"/>
<circle cx="362.3" cy="188.5" r="5.1" stroke-width="1.5" fill="#d80000"/>
<circle cx="362.8" cy="186.2" r="5.1" stroke-width="1.5" fill="#d80000"/>
<circle cx="363.4" cy="188.5" r="5.1" stroke-width="1.5" fill="#d80000"/>
<circle cx="364.0" cy="183.3" r="5.1" stroke-width="1.5" fill="#d80000"/>
<circle cx="364.6" cy="183.6" r="5.1" stroke-width="1.5" fill="#d80000"/>
<circle cx="365.2" cy="181.1" r="5.1" stroke-width="1.5" fill="#d80000"/>
<circle cx="365.8" cy="192.1" r="5.1" stroke-width="1.5" fill="#d80000"/>
<circle cx="366.4" cy="184.0" r="5.1" stroke-width="1.5" fill="#d80000"/>
<circle cx="367.0" cy="189.3" r="5.1" stroke-width="1.5" fill="#d80000"/>
<circle cx="367.6" cy="182.6" r="5.1" stroke-width="1.5" fill="#d80000"/>
<circle cx="368.1" cy="185.1" r="5.1" stroke-width="1.5" fill="#d80000"/>
<circle cx="368.7" cy="179.6" r="5.1" stroke-width="1.5" fill="#d80000"/>
<circle cx="369.3" cy="183.5" r="5.1" stroke-width="1.5" fill="#d80000"/>
<circle cx="369.9" cy="187.6" r="5.1" stroke-width="1.5" fill="#d80000"/>
<circle cx="370.5" cy="180.9" r="5.1" stroke-width="1.5" fill="#d80000"/>
<circle cx="371.1" cy="187.9" r="5.1" stroke-width="1.5" fill="#d80000"/>
<circle cx="371.7" cy="185.7" r="5.1" stroke-width="1.5" fill="#d80000"/>
<circle cx="372.3" cy="181.6" r="5.1" stroke-width="1.5" fill="#d80000"/>
<circle cx="372.9" cy="183.3" r="5.1" stroke-width="1.5" fill="#d80000"/>
<circle cx="373.4" cy="183.4" r="5.1" stroke-width="1.5" fill="#d80000"/>
<circle cx="374.0" cy="184.7" r="5.1" stroke-width="1.5" fill="#d80000"/>
<circle cx="374.6" cy="183.2" r="5.1" stroke-width="1.5" fill="#d80000"/>
<circle cx="375.2" cy="182.4" r="5.1" stroke-width="1.5" fill="#d80000"/>
<circle cx="375.8" cy="183.9" r="5.1" stroke-width="1.5" fill="#d80000"/>
<circle cx="376.4" cy="181.8" r="5.1" stroke-width="1.5" fill="#d80000"/>
<circle cx="377.0" cy="181.0" r="5.1" stroke-width="1.5" fill="#d80000"/>
<circle cx="377.6" cy="184.8" r="5.1" stroke-width="1.5" fill="#d80000"/>
<circle cx="378.1" cy="187.6" r="5.1" stroke-width="1.5" fill="#d80000"/>
<circle cx="378.7" cy="180.4" r="5.1" stroke-width="1.5" fill="#d80000"/>
<circle cx="379.3" cy="185.0" r="5.1" stroke-width="1.5" fill="#d80000"/>
<circle cx="379.9" cy="183.0" r="5.1" stroke-width="1.5" fill="#d80000"/>
<circle cx="380.5" cy="182.2" r="5.1" stroke-width="1.5" fill="#d80000"/>
<circle cx="381.1" cy="187.7" r="5.1" stroke-width="1.5" fill="#d80000"/>
<circle cx="381.7" cy="183.7" r="5.1" stroke-width="1.5" fill="#d80000"/>
<circle cx="382.3" cy="189.9" r="5.1" stroke-width="1.5" fill="#d80000"/>
<circle cx="382.9" cy="183.1" r="5.1" stroke-width="1.5" fill="#d80000"/>
<circle cx="383.4" cy="186.7" r="5.1" stroke-width="1.5" fill="#d80000"/>
<circle cx="384.0" cy="185.0" r="5.1" stroke-width="1.5" fill="#d80000"/>
<circle cx="384.6" cy="183.5" r="5.1" stroke-width="1.5" fill="#d80000"/>
<circle cx="385.2" cy="187.6" r="5.1" stroke-width="1.5" fill="#d80000"/>
<circle cx="385.8" cy="185.5" r="5.1" stroke-width="1.5" fill="#d80000"/>
<circle cx="386.4" cy="187.9" r="5.1" stroke-width="1.5" fill="#d80000"/>
<circle cx="387.0" cy="186.0" r="5.1" stroke-width="1.5" fill="#d80000"/>
<circle cx="387.6" cy="183.0" r="5.1" stroke-width="1.5" fill="#d80000"/>
<circle cx="388.2" cy="186.1" r="5.1" stroke-width="1.5" fill="#d80000"/>
<circle cx="388.7" cy="186.6" r="5.1" stroke-width="1.5" fill="#d80000"/>
<circle cx="389.3" cy="189.4" r="5.1" stroke-width="1.5" fill="#d80000"/>
<circle cx="389.9" cy="183.9" r="5.1" stroke-width="1.5" fill="#d80000"/>
<circle cx="390.5" cy="186.6" r="5.1" stroke-width="1.5" fill="#d80000"/>
<circle cx="391.1" cy="181.7" r="5.1" stroke-width="1.5" fill="#d80000"/>
<circle cx="391.7" cy="188.9" r="5.1" stroke-width="1.5" fill="#d80000"/>
<circle cx="392.3" cy="183.9" r="5.1" stroke-width="1.5" fill="#d80000"/>
<circle cx="392.9" cy="181.9" r="5.1" stroke-width="1.5" fill="#d80000"/>
<circle cx="393.4" cy="187.4" r="5.1" stroke-width="1.5" fill="#d80000"/>
<circle cx="394.0" cy="191.1" r="5.1" stroke-width="1.5" fill="#d80000"/>
<circle cx="394.6" cy="183.5" r="5.1" stroke-width="1.5" fill="#d80000"/>
<circle cx="395.2" cy="185.0" r="5.1" stroke-width="1.5" fill="#d80000"/>
<circle cx="395.8" cy="186.3" r="5.1" stroke-width="1.5" fill="#d80000"/>
<circle cx="396.4" cy="185.4" r="5.1" stroke-width="1.5" fill="#d80000"/>
<circle cx="397.0" cy="190.1" r="5.1" stroke-width="1.5" fill="#d80000"/>
<circle cx="397.6" cy="187.1" r="5.1" stroke-width="1.5" fill="#d80000"/>
<circle cx="398.2" cy="188.0" r="5.1" stroke-width="1.5" fill="#d80000"/>
<circle cx="398.7" cy="192.5" r="5.1" stroke-width="1.5" fill="#d80000"/>
<circle cx="399.3" cy="189.1" r="5.1" stroke-width="1.5" fill="#d80000"/>
<circle cx="399.9" cy="193.2" r="5.1" stroke-width="1.5" fill="#d80000"/>
<circle cx="400.5" cy="190.4" r="5.1" stroke-width="1.5" fill="#d80000"/>
<circle cx="401.1" cy="191.1" r="5.1" stroke-width="1.5" fill="#d80000"/>
<circle cx="401.7" cy="190.7" r="5.1" stroke-width="1.5" fill="#d80000"/>
<circle cx="402.8" cy="227.5" r="5.1" stroke-width="1.5" fill="#d80000"/>
<circle cx="402.9" cy="185.2" r="5.1" stroke-width="1.5" fill="#d80000"/>
<circle cx="403.3" cy="238.0" r="5.1" stroke-width="1.5" fill="#d80000"/>
<circle cx="403.4" cy="195.8" r="5.1" stroke-width="1.5" fill="#d80000"/>
<circle cx="404.0" cy="197.5" r="5.2"/>
<circle cx="404.2" cy="258.0" r="5.2"/>
<circle cx="404.6" cy="204.4" r="5.2"/>
<circle cx="405.0" cy="206.7" r="5.2"/>
<circle cx="405.2" cy="209.5" r="5.2"/>
<circle cx="405.8" cy="216.6" r="5.2"/>
<circle cx="406.4" cy="216.4" r="5.2"/>
<circle cx="406.7" cy="280.0" r="5.2"/>
<circle cx="407.0" cy="236.8" r="5.2"/>
<circle cx="407.5" cy="228.0" r="5.2"/>
<circle cx="407.6" cy="250.8" r="5.2"/>
<circle cx="408.0" cy="255.0" r="5.2"/>
<circle cx="408.2" cy="257.8" r="5.2"/>
<circle cx="408.7" cy="267.7" r="5.2"/>
<circle cx="409.3" cy="261.6" r="5.2"/>
<circle cx="409.9" cy="265.9" r="5.2"/>
<circle cx="410.0" cy="238.0" r="5.2"/>
<circle cx="410.0" cy="290.0" r="5.2"/>
<circle cx="410.5" cy="282.8" r="5.2"/>
<circle cx="411.1" cy="291.2" r="5.2"/>
<circle cx="411.7" cy="286.7" r="5.2"/>
<circle cx="412.3" cy="278.1" r="5.2"/>
<circle cx="412.9" cy="317.6" r="5.2"/>
<circle cx="413.0" cy="310.0" r="5.2"/>
<circle cx="413.5" cy="290.7" r="5.2"/>
<circle cx="414.0" cy="276.7" r="5.2"/>
<circle cx="414.0" cy="307.5" r="5.2"/>
<circle cx="414.5" cy="322.0" r="5.2"/>
<circle cx="414.6" cy="292.8" r="5.2"/>
<circle cx="415.2" cy="313.3" r="5.2"/>
<circle cx="415.8" cy="308.6" r="5.2"/>
<circle cx="416.0" cy="338.0" r="5.2"/>
<circle cx="416.4" cy="323.6" r="5.2"/>
<circle cx="416.7" cy="293.0" r="5.2"/>
<circle cx="417.0" cy="320.7" r="5.2"/>
<circle cx="417.6" cy="302.3" r="5.2"/>
<circle cx="418.0" cy="330.0" r="5.2"/>
<circle cx="418.2" cy="309.1" r="5.2"/>
<circle cx="418.7" cy="322.9" r="5.2"/>
<circle cx="419.0" cy="356.0" r="5.2"/>
<circle cx="419.3" cy="333.0" r="5.2"/>
<circle cx="419.9" cy="353.9" r="5.2"/>
<circle cx="420.0" cy="306.7" r="5.2"/>
<circle cx="420.0" cy="372.0" r="5.2"/>
<circle cx="420.5" cy="340.9" r="5.2"/>
<circle cx="421.0" cy="345.0" r="5.2"/>
<circle cx="421.1" cy="343.2" r="5.2"/>
<circle cx="421.5" cy="390.0" r="5.2"/>
<circle cx="421.7" cy="350.2" r="5.2"/>
<circle cx="422.3" cy="356.8" r="5.2"/>
<circle cx="422.5" cy="408.0" r="5.2"/>
<circle cx="422.9" cy="379.5" r="5.2"/>
<circle cx="423.0" cy="364.0" r="5.2"/>
<circle cx="423.4" cy="452.5" r="5.2"/>
<circle cx="424.0" cy="380.0" r="5.2"/>
<circle cx="424.4" cy="470.2" r="5.2"/>
<circle cx="424.5" cy="424.0" r="5.2"/>
<circle cx="425.5" cy="398.0" r="5.2"/>
<circle cx="426.0" cy="438.8" r="5.2"/>
<circle cx="427.0" cy="414.0" r="5.2"/>
<circle cx="427.0" cy="445.3" r="5.2"/>
<circle cx="428.0" cy="431.0" r="5.2"/>
<circle cx="428.5" cy="495.2" r="5.2"/>
<circle cx="431.0" cy="438.8" r="5.2"/>
<circle cx="431.5" cy="495.2" r="5.2"/>
<circle cx="434.0" cy="452.5" r="5.2"/>
<circle cx="434.5" cy="495.2" r="5.2"/>
<circle cx="435.0" cy="470.2" r="5.2"/>
<circle cx="436.0" cy="460.7" r="5.2"/>
<circle cx="436.3" cy="580.5" r="5.2"/>
<circle cx="436.7" cy="512.9" r="5.2"/>
<circle cx="437.5" cy="537.8" r="5.2"/>
<circle cx="438.2" cy="580.5" r="5.2"/>
<circle cx="439.0" cy="481.5" r="5.2"/>
<circle cx="439.0" cy="512.9" r="5.2"/>
<circle cx="439.5" cy="537.8" r="5.2"/>
<circle cx="439.5" cy="580.5" r="5.2"/>
<circle cx="440.8" cy="580.5" r="5.2"/>
<circle cx="441.0" cy="537.8" r="5.2"/>
<circle cx="441.5" cy="512.9" r="5.2"/>
<circle cx="441.8" cy="580.5" r="5.2"/>
<circle cx="443.1" cy="580.5" r="5.2"/>
<circle cx="443.7" cy="537.8" r="5.2"/>
<circle cx="444.3" cy="580.5" r="5.2"/>
<circle cx="444.9" cy="537.8" r="5.2"/>
<circle cx="445.0" cy="512.9" r="5.2"/>
<circle cx="445.3" cy="495.2" r="5.2"/>
<circle cx="445.5" cy="580.5" r="5.2"/>
<circle cx="446.8" cy="537.8" r="5.2"/>
<circle cx="447.0" cy="512.9" r="5.2"/>
<circle cx="447.1" cy="580.5" r="5.2"/>
<circle cx="448.0" cy="580.5" r="5.2"/>
<circle cx="448.7" cy="537.8" r="5.2"/>
<circle cx="449.1" cy="580.5" r="5.2"/>
<circle cx="450.4" cy="537.8" r="5.2"/>
<circle cx="450.5" cy="580.5" r="5.2"/>
<circle cx="450.5" cy="512.9" r="5.2"/>
<circle cx="451.3" cy="580.5" r="5.2"/>
<circle cx="452.6" cy="537.8" r="5.2"/>
<circle cx="453.0" cy="512.9" r="5.2"/>
<circle cx="453.1" cy="580.5" r="5.2"/>
<circle cx="454.4" cy="580.5" r="5.2"/>
<circle cx="454.9" cy="537.8" r="5.2"/>
<circle cx="455.4" cy="580.5" r="5.2"/>
<circle cx="456.0" cy="512.9" r="5.2"/>
<circle cx="456.7" cy="537.8" r="5.2"/>
<circle cx="457.0" cy="580.5" r="5.2"/>
<circle cx="458.1" cy="537.8" r="5.2"/>
<circle cx="458.2" cy="580.5" r="5.2"/>
<circle cx="458.5" cy="512.9" r="5.2"/>
<circle cx="458.8" cy="495.2" r="5.2"/>
<circle cx="459.1" cy="580.5" r="5.2"/>
<circle cx="459.9" cy="537.8" r="5.2"/>
<circle cx="460.1" cy="580.5" r="5.2"/>
<circle cx="461.0" cy="512.9" r="5.2"/>
<circle cx="461.4" cy="580.5" r="5.2"/>
<circle cx="462.0" cy="537.8" r="5.2"/>
<circle cx="462.1" cy="470.2" r="5.2"/>
<circle cx="462.7" cy="580.5" r="5.2"/>
<circle cx="464.0" cy="580.5" r="5.2"/>
<circle cx="464.4" cy="537.8" r="5.2"/>
<circle cx="464.5" cy="512.9" r="5.2"/>
<circle cx="465.4" cy="580.5" r="5.2"/>
<circle cx="466.0" cy="537.8" r="5.2"/>
<circle cx="467.0" cy="512.9" r="5.2"/>
<circle cx="467.0" cy="580.5" r="5.2"/>
<circle cx="467.8" cy="580.5" r="5.2"/>
<circle cx="468.3" cy="537.8" r="5.2"/>
<circle cx="469.3" cy="460.7" r="5.2"/>
<circle cx="469.5" cy="580.5" r="5.2"/>
<circle cx="470.0" cy="537.8" r="5.2"/>
<circle cx="470.0" cy="512.9" r="5.2"/>
<circle cx="470.6" cy="580.5" r="5.2"/>
<circle cx="470.8" cy="495.2" r="5.2"/>
<circle cx="471.8" cy="537.8" r="5.2"/>
<circle cx="472.0" cy="580.5" r="5.2"/>
<circle cx="472.5" cy="512.9" r="5.2"/>
<circle cx="472.9" cy="580.5" r="5.2"/>
<circle cx="473.8" cy="580.5" r="5.2"/>
<circle cx="473.9" cy="537.8" r="5.2"/>
<circle cx="475.0" cy="512.9" r="5.2"/>
<circle cx="475.7" cy="580.5" r="5.2"/>
<circle cx="475.8" cy="537.8" r="5.2"/>
<circle cx="476.5" cy="580.5" r="5.2"/>
<circle cx="477.2" cy="537.8" r="5.2"/>
<circle cx="477.7" cy="580.5" r="5.2"/>
<circle cx="478.0" cy="512.9" r="5.2"/>
<circle cx="479.1" cy="537.8" r="5.2"/>
<circle cx="479.4" cy="580.5" r="5.2"/>
<circle cx="480.6" cy="580.5" r="5.2"/>
<circle cx="481.0" cy="512.9" r="5.2"/>
<circle cx="481.1" cy="537.8" r="5.2"/>
<circle cx="481.5" cy="580.5" r="5.2"/>
<circle cx="481.7" cy="495.2" r="5.2"/>
<circle cx="482.8" cy="580.5" r="5.2"/>
<circle cx="483.1" cy="537.8" r="5.2"/>
<circle cx="483.5" cy="512.9" r="5.2"/>
<circle cx="484.6" cy="580.5" r="5.2"/>
<circle cx="484.6" cy="537.8" r="5.2"/>
<circle cx="485.3" cy="580.5" r="5.2"/>
<circle cx="486.5" cy="512.9" r="5.2"/>
<circle cx="486.8" cy="481.5" r="5.2"/>
<circle cx="486.8" cy="537.8" r="5.2"/>
<circle cx="486.9" cy="580.5" r="5.2"/>
<circle cx="487.7" cy="580.5" r="5.2"/>
<circle cx="488.9" cy="537.8" r="5.2"/>
<circle cx="489.0" cy="512.9" r="5.2"/>
<circle cx="489.5" cy="580.5" r="5.2"/>
<circle cx="490.1" cy="580.5" r="5.2"/>
<circle cx="490.3" cy="537.8" r="5.2"/>
<circle cx="491.0" cy="512.9" r="5.2"/>
<circle cx="491.7" cy="580.5" r="5.2"/>
<circle cx="492.2" cy="537.8" r="5.2"/>
<circle cx="492.6" cy="580.5" r="5.2"/>
<circle cx="492.9" cy="495.2" r="5.2"/>
<circle cx="493.3" cy="470.2" r="5.2"/>
<circle cx="493.5" cy="512.9" r="5.2"/>
<circle cx="494.2" cy="537.8" r="5.2"/>
<circle cx="494.2" cy="481.5" r="5.2"/>
<circle cx="494.2" cy="580.5" r="5.2"/>
<circle cx="495.7" cy="580.5" r="5.2"/>
<circle cx="496.2" cy="537.8" r="5.2"/>
<circle cx="496.4" cy="580.5" r="5.2"/>
<circle cx="496.5" cy="512.9" r="5.2"/>
<circle cx="497.8" cy="580.5" r="5.2"/>
<circle cx="498.8" cy="537.8" r="5.2"/>
<circle cx="499.4" cy="580.5" r="5.2"/>
<circle cx="499.5" cy="512.9" r="5.2"/>
<circle cx="499.7" cy="537.8" r="5.2"/>
<circle cx="500.5" cy="580.5" r="5.2"/>
<circle cx="501.6" cy="580.5" r="5.2"/>
<circle cx="501.8" cy="537.8" r="5.2"/>
<circle cx="503.1" cy="580.5" r="5.2"/>
<circle cx="503.7" cy="537.8" r="5.2"/>
<circle cx="504.2" cy="580.5" r="5.2"/>
<circle cx="505.2" cy="495.2" r="5.2"/>
<circle cx="505.7" cy="580.5" r="5.2"/>
<circle cx="505.9" cy="537.8" r="5.2"/>
<circle cx="506.5" cy="580.5" r="5.2"/>
<circle cx="507.3" cy="537.8" r="5.2"/>
<circle cx="508.2" cy="580.5" r="5.2"/>
<circle cx="509.3" cy="580.5" r="5.2"/>
<circle cx="509.7" cy="537.8" r="5.2"/>
<circle cx="510.5" cy="495.2" r="5.2"/>
<circle cx="510.6" cy="580.5" r="5.2"/>
<circle cx="511.3" cy="537.8" r="5.2"/>
<circle cx="511.6" cy="580.5" r="5.2"/>
<circle cx="513.1" cy="580.5" r="5.2"/>
<circle cx="513.3" cy="537.8" r="5.2"/>
<circle cx="513.3" cy="512.9" r="5.2"/>
<circle cx="514.4" cy="580.5" r="5.2"/>
<circle cx="515.4" cy="580.5" r="5.2"/>
<circle cx="515.7" cy="537.8" r="5.2"/>
<circle cx="516.0" cy="512.9" r="5.2"/>
<circle cx="516.3" cy="580.5" r="5.2"/>
<circle cx="517.0" cy="537.8" r="5.2"/>
<circle cx="518.3" cy="580.5" r="5.2"/>
<circle cx="518.5" cy="512.9" r="5.2"/>
<circle cx="519.3" cy="537.8" r="5.2"/>
<circle cx="519.4" cy="580.5" r="5.2"/>
<circle cx="520.2" cy="580.5" r="5.2"/>
<circle cx="521.0" cy="512.9" r="5.2"/>
<circle cx="521.0" cy="537.8" r="5.2"/>
<circle cx="521.9" cy="580.5" r="5.2"/>
<circle cx="522.8" cy="580.5" r="5.2"/>
<circle cx="522.9" cy="537.8" r="5.2"/>
<circle cx="523.3" cy="495.2" r="5.2"/>
<circle cx="524.0" cy="512.9" r="5.2"/>
<circle cx="524.2" cy="580.5" r="5.2"/>
<circle cx="525.2" cy="537.8" r="5.2"/>
<circle cx="525.7" cy="580.5" r="5.2"/>
<circle cx="526.5" cy="537.8" r="5.2"/>
<circle cx="526.5" cy="512.9" r="5.2"/>
<circle cx="526.7" cy="580.5" r="5.2"/>
<circle cx="527.8" cy="580.5" r="5.2"/>
<circle cx="528.9" cy="495.2" r="5.2"/>
<circle cx="529.0" cy="512.9" r="5.2"/>
<circle cx="529.0" cy="580.5" r="5.2"/>
<circle cx="529.1" cy="537.8" r="5.2"/>
<circle cx="530.1" cy="580.5" r="5.2"/>
<circle cx="531.0" cy="537.8" r="5.2"/>
<circle cx="531.5" cy="580.5" r="5.2"/>
<circle cx="532.0" cy="512.9" r="5.2"/>
<circle cx="532.7" cy="537.8" r="5.2"/>
<circle cx="532.8" cy="580.5" r="5.2"/>
<circle cx="533.9" cy="580.5" r="5.2"/>
<circle cx="533.9" cy="537.8" r="5.2"/>
<circle cx="535.0" cy="512.9" r="5.2"/>
<circle cx="535.1" cy="580.5" r="5.2"/>
<circle cx="536.5" cy="537.8" r="5.2"/>
<circle cx="536.7" cy="580.5" r="5.2"/>
<circle cx="537.7" cy="580.5" r="5.2"/>
<circle cx="538.3" cy="537.8" r="5.2"/>
<circle cx="538.9" cy="512.9" r="5.2"/>
<circle cx="539.4" cy="580.5" r="5.2"/>
<circle cx="540.4" cy="537.8" r="5.2"/>
<circle cx="540.8" cy="580.5" r="5.2"/>
<circle cx="541.5" cy="580.5" r="5.2"/>
<circle cx="541.7" cy="537.8" r="5.2"/>
<circle cx="543.0" cy="580.5" r="5.2"/>
<circle cx="544.2" cy="580.5" r="5.2"/>
<circle cx="544.4" cy="537.8" r="5.2"/>
<circle cx="545.1" cy="580.5" r="5.2"/>
<circle cx="545.5" cy="537.8" r="5.2"/>
<circle cx="546.2" cy="537.8" r="5.2"/>
<circle cx="546.4" cy="580.5" r="5.2"/>
<circle cx="547.3" cy="537.8" r="5.2"/>
<circle cx="548.3" cy="580.5" r="5.2"/>
<circle cx="549.2" cy="580.5" r="5.2"/>
<circle cx="549.4" cy="537.8" r="5.2"/>
<circle cx="550.0" cy="537.8" r="5.2"/>
<circle cx="550.7" cy="580.5" r="5.2"/>
<circle cx="551.4" cy="580.5" r="5.2"/>
<circle cx="553.0" cy="580.5" r="5.2"/>
<circle cx="554.5" cy="580.5" r="5.2"/>
<circle cx="555.7" cy="580.5" r="5.2"/>
<circle cx="556.3" cy="580.5" r="5.2"/>
<circle cx="556.7" cy="537.8" r="5.2"/>
<circle cx="558.0" cy="580.5" r="5.2"/>
<circle cx="559.1" cy="580.5" r="5.2"/>
<circle cx="560.7" cy="580.5" r="5.2"/>
<circle cx="561.4" cy="580.5" r="5.2"/>
<circle cx="562.0" cy="537.8" r="5.2"/>
<circle cx="562.8" cy="580.5" r="5.2"/>
<circle cx="564.5" cy="580.5" r="5.2"/>
<circle cx="565.4" cy="580.5" r="5.2"/>
<circle cx="566.7" cy="580.5" r="5.2"/>
<circle cx="568.3" cy="580.5" r="5.2"/>
<circle cx="568.9" cy="537.8" r="5.2"/>
<circle cx="569.1" cy="580.5" r="5.2"/>
<circle cx="570.1" cy="580.5" r="5.2"/>
<circle cx="571.6" cy="580.5" r="5.2"/>
<circle cx="572.7" cy="580.5" r="5.2"/>
<circle cx="573.9" cy="580.5" r="5.2"/>
<circle cx="575.5" cy="580.5" r="5.2"/>
<circle cx="577.1" cy="580.5" r="5.2"/>
<circle cx="578.0" cy="580.5" r="5.2"/>
<circle cx="579.3" cy="580.5" r="5.2"/>
<circle cx="580.3" cy="580.5" r="5.2"/>
<circle cx="581.8" cy="580.5" r="5.2"/>
<circle cx="583.2" cy="580.5" r="5.2"/>
<circle cx="584.3" cy="580.5" r="5.2"/>
<circle cx="585.7" cy="580.5" r="5.2"/>
<circle cx="586.7" cy="580.5" r="5.2"/>
<circle cx="587.7" cy="580.5" r="5.2"/>
<circle cx="589.3" cy="580.5" r="5.2"/>
<circle cx="590.4" cy="580.5" r="5.2"/>
<circle cx="591.4" cy="580.5" r="5.2"/>
<circle cx="593.0" cy="580.5" r="5.2"/>
<circle cx="594.5" cy="580.5" r="5.2"/>
<circle cx="595.2" cy="580.5" r="5.2"/>
<circle cx="596.7" cy="580.5" r="5.2"/>
<circle cx="598.1" cy="580.5" r="5.2"/>
<circle cx="599.1" cy="580.5" r="5.2"/>
<circle cx="600.3" cy="580.5" r="5.2"/>
<circle cx="601.6" cy="580.5" r="5.2"/>
<circle cx="603.0" cy="580.5" r="5.2"/>
<circle cx="604.3" cy="580.5" r="5.2"/>
<circle cx="605.5" cy="580.5" r="5.2"/>
<circle cx="606.4" cy="580.5" r="5.2"/>
<circle cx="608.2" cy="580.5" r="5.2"/>
<circle cx="609.5" cy="580.5" r="5.2"/>
<circle cx="610.1" cy="580.5" r="5.2"/>
<circle cx="611.5" cy="580.5" r="5.2"/>
<circle cx="612.7" cy="580.5" r="5.2"/>
<circle cx="614.5" cy="580.5" r="5.2"/>
<circle cx="615.8" cy="580.5" r="5.2"/>
<circle cx="625.5" cy="580.5" r="5.2"/>
<circle cx="630.0" cy="580.5" r="5.2"/>
<circle cx="640.0" cy="580.5" r="5.2"/>
<circle cx="649.0" cy="580.5" r="5.2"/>
</g>
<line x1="316.4" y1="105.5" x2="316.4" y2="212.3" stroke="#222" stroke-width="1.1"/>
<line x1="403.3" y1="156.2" x2="403.3" y2="431.7" stroke="#222" stroke-width="1.1"/>
<line x1="411.7" y1="156.2" x2="411.7" y2="431.7" stroke="#222" stroke-width="1.1"/>
<line x1="418.3" y1="156.2" x2="418.3" y2="431.7" stroke="#222" stroke-width="1.1"/>
<line x1="426.7" y1="301.3" x2="426.7" y2="577" stroke="#222" stroke-width="1.1"/>
<line x1="430.9" y1="301.3" x2="430.9" y2="577" stroke="#222" stroke-width="1.1"/>
<line x1="439.2" y1="301.3" x2="439.2" y2="577" stroke="#222" stroke-width="1.1"/>
<line x1="552.0" y1="440.6" x2="552.0" y2="580.5" stroke="#222" stroke-width="1.1"/>
<path d="M101.6,123.8 L104.0,128.5 L108.0,136.5 L112.0,143.0 L116.0,148.5 L120.0,152.0 L125.0,155.5 L130.0,158.5 L140.0,162.5 L151.0,165.5 L170.0,169.5 L206.0,174.0 L260.0,177.8 L298.0,178.3 L301.0,178.0 L303.0,175.0 L304.5,165.0 L306.0,148.0 L307.3,131.0 L308.5,122.0 L309.6,119.0 L310.7,122.0 L311.8,134.0 L312.8,152.0 L313.6,170.0 L314.5,179.5 L316.0,180.5 L350.0,181.5 L392.0,183.3 L398.0,183.8 L400.5,185.0 L402.5,189.0 L404.0,198.0 L405.5,213.0 L407.0,232.0 L408.0,250.0 L409.2,265.0 L411.0,280.0 L414.0,298.0 L416.0,307.0 L419.0,320.0 L423.3,366.7 L424.4,430.0 L426.5,452.0 L428.9,474.4 L431.0,486.0 L432.5,488.5 L435.0,489.0 L437.0,492.5 L438.9,500.0 L440.5,519.0 L443.3,536.7 L446.7,545.6 L450.0,549.5 L454.4,551.1 L500.0,552.0 L543.3,553.3 L546.0,554.5 L548.3,558.0 L549.6,566.0 L550.4,580.5" fill="none" stroke="#0a0af0" stroke-width="3.4" stroke-linejoin="round" stroke-linecap="butt"/>
</g>
<g stroke="#000" stroke-width="1.5" fill="none">
<path d="M101.6,87.3 V580.5 H690.0 V87.3 H100.85"/>
<line x1="101.6" y1="580.5" x2="101.6" y2="590.0"/>
<line x1="160.4" y1="580.5" x2="160.4" y2="586.0"/>
<line x1="219.3" y1="580.5" x2="219.3" y2="590.0"/>
<line x1="278.1" y1="580.5" x2="278.1" y2="586.0"/>
<line x1="337.0" y1="580.5" x2="337.0" y2="590.0"/>
<line x1="395.8" y1="580.5" x2="395.8" y2="586.0"/>
<line x1="454.6" y1="580.5" x2="454.6" y2="590.0"/>
<line x1="513.5" y1="580.5" x2="513.5" y2="586.0"/>
<line x1="572.3" y1="580.5" x2="572.3" y2="590.0"/>
<line x1="631.2" y1="580.5" x2="631.2" y2="586.0"/>
<line x1="690.0" y1="580.5" x2="690.0" y2="590.0"/>
<line x1="101.6" y1="87.3" x2="101.6" y2="96.8"/>
<line x1="148.8" y1="87.3" x2="148.8" y2="92.8"/>
<line x1="196.0" y1="87.3" x2="196.0" y2="96.8"/>
<line x1="243.3" y1="87.3" x2="243.3" y2="92.8"/>
<line x1="290.5" y1="87.3" x2="290.5" y2="96.8"/>
<line x1="337.7" y1="87.3" x2="337.7" y2="92.8"/>
<line x1="384.9" y1="87.3" x2="384.9" y2="96.8"/>
<line x1="432.2" y1="87.3" x2="432.2" y2="92.8"/>
<line x1="479.4" y1="87.3" x2="479.4" y2="96.8"/>
<line x1="526.6" y1="87.3" x2="526.6" y2="92.8"/>
<line x1="573.8" y1="87.3" x2="573.8" y2="96.8"/>
<line x1="621.1" y1="87.3" x2="621.1" y2="92.8"/>
<line x1="668.3" y1="87.3" x2="668.3" y2="96.8"/>
<line x1="101.6" y1="580.5" x2="91.6" y2="580.5"/>
<line x1="101.6" y1="537.8" x2="96.1" y2="537.8"/>
<line x1="101.6" y1="512.9" x2="96.1" y2="512.9"/>
<line x1="101.6" y1="495.2" x2="96.1" y2="495.2"/>
<line x1="101.6" y1="481.5" x2="96.1" y2="481.5"/>
<line x1="101.6" y1="470.2" x2="96.1" y2="470.2"/>
<line x1="101.6" y1="460.7" x2="96.1" y2="460.7"/>
<line x1="101.6" y1="452.5" x2="96.1" y2="452.5"/>
<line x1="101.6" y1="445.3" x2="96.1" y2="445.3"/>
<line x1="101.6" y1="438.8" x2="91.6" y2="438.8"/>
<line x1="101.6" y1="396.1" x2="96.1" y2="396.1"/>
<line x1="101.6" y1="371.2" x2="96.1" y2="371.2"/>
<line x1="101.6" y1="353.5" x2="96.1" y2="353.5"/>
<line x1="101.6" y1="339.8" x2="96.1" y2="339.8"/>
<line x1="101.6" y1="328.5" x2="96.1" y2="328.5"/>
<line x1="101.6" y1="319.0" x2="96.1" y2="319.0"/>
<line x1="101.6" y1="310.8" x2="96.1" y2="310.8"/>
<line x1="101.6" y1="303.6" x2="96.1" y2="303.6"/>
<line x1="101.6" y1="297.1" x2="91.6" y2="297.1"/>
<line x1="101.6" y1="254.4" x2="96.1" y2="254.4"/>
<line x1="101.6" y1="229.5" x2="96.1" y2="229.5"/>
<line x1="101.6" y1="211.8" x2="96.1" y2="211.8"/>
<line x1="101.6" y1="198.1" x2="96.1" y2="198.1"/>
<line x1="101.6" y1="186.8" x2="96.1" y2="186.8"/>
<line x1="101.6" y1="177.3" x2="96.1" y2="177.3"/>
<line x1="101.6" y1="169.1" x2="96.1" y2="169.1"/>
<line x1="101.6" y1="161.9" x2="96.1" y2="161.9"/>
<line x1="101.6" y1="155.4" x2="91.6" y2="155.4"/>
<line x1="101.6" y1="112.7" x2="96.1" y2="112.7"/>
<line x1="101.6" y1="87.8" x2="96.1" y2="87.8"/>
</g>
<text x="101.6" y="618.2" text-anchor="middle" font-family="Liberation Sans, sans-serif" font-size="29.2" textLength="15.0" lengthAdjust="spacingAndGlyphs" fill="#111">0</text>
<text x="219.3" y="618.2" text-anchor="middle" font-family="Liberation Sans, sans-serif" font-size="29.2" textLength="45.1" lengthAdjust="spacingAndGlyphs" fill="#111">200</text>
<text x="337.0" y="618.2" text-anchor="middle" font-family="Liberation Sans, sans-serif" font-size="29.2" textLength="45.1" lengthAdjust="spacingAndGlyphs" fill="#111">400</text>
<text x="454.6" y="618.2" text-anchor="middle" font-family="Liberation Sans, sans-serif" font-size="29.2" textLength="45.1" lengthAdjust="spacingAndGlyphs" fill="#111">600</text>
<text x="572.3" y="618.2" text-anchor="middle" font-family="Liberation Sans, sans-serif" font-size="29.2" textLength="45.1" lengthAdjust="spacingAndGlyphs" fill="#111">800</text>
<text x="690.0" y="618.2" text-anchor="middle" font-family="Liberation Sans, sans-serif" font-size="29.2" textLength="60.1" lengthAdjust="spacingAndGlyphs" fill="#111">1000</text>
<text x="101.6" y="74.7" text-anchor="middle" font-family="Liberation Sans, sans-serif" font-size="29.2" textLength="15.1" lengthAdjust="spacingAndGlyphs" fill="#111">0</text>
<text x="196.0" y="74.7" text-anchor="middle" font-family="Liberation Sans, sans-serif" font-size="29.2" textLength="45.4" lengthAdjust="spacingAndGlyphs" fill="#111">500</text>
<text x="290.5" y="74.7" text-anchor="middle" font-family="Liberation Sans, sans-serif" font-size="29.2" textLength="60.5" lengthAdjust="spacingAndGlyphs" fill="#111">1000</text>
<text x="384.9" y="74.7" text-anchor="middle" font-family="Liberation Sans, sans-serif" font-size="29.2" textLength="60.5" lengthAdjust="spacingAndGlyphs" fill="#111">1500</text>
<text x="479.4" y="74.7" text-anchor="middle" font-family="Liberation Sans, sans-serif" font-size="29.2" textLength="60.5" lengthAdjust="spacingAndGlyphs" fill="#111">2000</text>
<text x="573.8" y="74.7" text-anchor="middle" font-family="Liberation Sans, sans-serif" font-size="29.2" textLength="60.5" lengthAdjust="spacingAndGlyphs" fill="#111">2500</text>
<text x="668.3" y="74.7" text-anchor="middle" font-family="Liberation Sans, sans-serif" font-size="29.2" textLength="60.5" lengthAdjust="spacingAndGlyphs" fill="#111">3000</text>
<text x="82.8" y="161.3" text-anchor="end" font-family="Liberation Sans, sans-serif" font-size="18" textLength="43.0" lengthAdjust="spacingAndGlyphs" fill="#222">1,000</text>
<text x="82.8" y="303.0" text-anchor="end" font-family="Liberation Sans, sans-serif" font-size="18" textLength="28.7" lengthAdjust="spacingAndGlyphs" fill="#222">100</text>
<text x="82.8" y="444.7" text-anchor="end" font-family="Liberation Sans, sans-serif" font-size="18" textLength="19.1" lengthAdjust="spacingAndGlyphs" fill="#222">10</text>
<text x="82.8" y="586.4" text-anchor="end" font-family="Liberation Sans, sans-serif" font-size="18" textLength="9.6" lengthAdjust="spacingAndGlyphs" fill="#222">1</text>
<text x="400.7" y="39.3" text-anchor="middle" font-family="Liberation Sans, sans-serif" font-size="31" textLength="186.5" lengthAdjust="spacingAndGlyphs" fill="#111">Energy (keV)</text>
<text x="396.6" y="660.8" text-anchor="middle" font-family="Liberation Sans, sans-serif" font-size="31" textLength="116" lengthAdjust="spacingAndGlyphs" fill="#111">Channel</text>
<text transform="translate(26.7,356) rotate(-90)" text-anchor="middle" font-family="Liberation Sans, sans-serif" font-size="31.5" textLength="180" lengthAdjust="spacingAndGlyphs" fill="#111">Counts (abs)</text>
<circle cx="537.5" cy="132.8" r="5.6" fill="#f00000" stroke="#200000" stroke-width="0.9"/>
<text x="570.5" y="140.2" font-family="Liberation Sans, sans-serif" font-size="22.5" textLength="105.5" lengthAdjust="spacingAndGlyphs" fill="#111">99.9% Mg</text>
<line x1="511" y1="161.4" x2="565.3" y2="161.4" stroke="#0a0af0" stroke-width="2.9"/>
<text x="570.5" y="169" font-family="Liberation Sans, sans-serif" font-size="23.5" textLength="109" lengthAdjust="spacingAndGlyphs" fill="#111">Simulation</text>
<text x="291.5" y="226" font-family="Liberation Sans, sans-serif" font-size="14" fill="#111">16</text>
<text x="305.5" y="237.3" font-family="Liberation Sans, sans-serif" font-size="23" fill="#111">O</text>
<text x="372.5" y="138.3" font-family="Liberation Sans, sans-serif" font-size="14" fill="#111">24,25,26</text>
<text x="427.5" y="150.6" font-family="Liberation Sans, sans-serif" font-size="23" fill="#111">Mg</text>
<text x="427" y="292.3" font-family="Liberation Sans, sans-serif" font-size="14" fill="#111">27,28,29</text>
<text x="481.5" y="304.8" font-family="Liberation Sans, sans-serif" font-size="23" fill="#111">Si</text>
<text x="536.5" y="420.8" font-family="Liberation Sans, sans-serif" font-size="14" fill="#111">56</text>
<text x="551.5" y="431.8" font-family="Liberation Sans, sans-serif" font-size="23" fill="#111">Fe</text>
<defs><clipPath id="cb"><rect x="101.6" y="708.5" width="588.4" height="473.29999999999995"/></clipPath></defs>
<g clip-path="url(#cb)">
<polyline points="101.6,711.7 395.8,712.5 469.4,713.6 542.9,718.1 616.5,749.1 690.0,749.1" fill="none" stroke="#555" stroke-width="1.3"/>
<rect x="390.4" y="707.1" width="10.8" height="10.8" fill="#000"/>
<rect x="464.0" y="708.2" width="10.8" height="10.8" fill="#000"/>
<rect x="537.5" y="712.7" width="10.8" height="10.8" fill="#000"/>
<rect x="611.1" y="743.7" width="10.8" height="10.8" fill="#000"/>
<rect x="684.6" y="743.7" width="10.8" height="10.8" fill="#000"/>
<polyline points="469.4,843.1 542.9,792.0 616.5,732.6 690.0,732.6" fill="none" stroke="#ff4848" stroke-width="1.2"/>
<circle cx="469.4" cy="843.1" r="5.9" fill="#f00"/>
<circle cx="542.9" cy="792.0" r="5.9" fill="#f00"/>
<circle cx="616.5" cy="732.6" r="5.9" fill="#f00"/>
<circle cx="690.0" cy="732.6" r="5.9" fill="#f00"/>
<polyline points="395.8,899.7 469.4,948.9 542.9,948.9 616.5,948.9 690.0,948.9" fill="none" stroke="#4848ff" stroke-width="1.2"/>
<path d="M388.9,903.4 L402.7,903.4 L395.8,891.7 Z" fill="#00f"/>
<path d="M462.5,952.6 L476.2,952.6 L469.4,940.9 Z" fill="#00f"/>
<path d="M536.0,952.6 L549.8,952.6 L542.9,940.9 Z" fill="#00f"/>
<path d="M609.6,952.6 L623.4,952.6 L616.5,940.9 Z" fill="#00f"/>
<path d="M683.1,952.6 L696.9,952.6 L690.0,940.9 Z" fill="#00f"/>
<polyline points="101.6,1022.1 395.8,1022.1 469.4,1022.1" fill="none" stroke="#ff9a3c" stroke-width="1.3"/>
<path d="M388.9,1018.6 L402.7,1018.6 L395.8,1030.4 Z" fill="#ff8000"/>
<path d="M462.5,1018.6 L476.2,1018.6 L469.4,1030.4 Z" fill="#ff8000"/>
</g>
<g stroke="#000" stroke-width="1.5" fill="none">
<path d="M101.6,708.5 V1181.8 H690.0 V708.5 H100.85"/>
<line x1="101.6" y1="1181.8" x2="101.6" y2="1191.8"/>
<line x1="175.1" y1="1181.8" x2="175.1" y2="1187.8"/>
<line x1="248.7" y1="1181.8" x2="248.7" y2="1191.8"/>
<line x1="322.2" y1="1181.8" x2="322.2" y2="1187.8"/>
<line x1="395.8" y1="1181.8" x2="395.8" y2="1191.8"/>
<line x1="469.4" y1="1181.8" x2="469.4" y2="1187.8"/>
<line x1="542.9" y1="1181.8" x2="542.9" y2="1191.8"/>
<line x1="616.5" y1="1181.8" x2="616.5" y2="1187.8"/>
<line x1="690.0" y1="1181.8" x2="690.0" y2="1191.8"/>
<line x1="101.6" y1="1181.8" x2="91.6" y2="1181.8"/>
<line x1="101.6" y1="1153.5" x2="96.6" y2="1153.5"/>
<line x1="101.6" y1="1136.9" x2="96.6" y2="1136.9"/>
<line x1="101.6" y1="1125.2" x2="96.6" y2="1125.2"/>
<line x1="101.6" y1="1116.1" x2="96.6" y2="1116.1"/>
<line x1="101.6" y1="1108.6" x2="96.6" y2="1108.6"/>
<line x1="101.6" y1="1102.3" x2="96.6" y2="1102.3"/>
<line x1="101.6" y1="1096.9" x2="96.6" y2="1096.9"/>
<line x1="101.6" y1="1092.1" x2="96.6" y2="1092.1"/>
<line x1="101.6" y1="1087.8" x2="91.6" y2="1087.8"/>
<line x1="101.6" y1="1059.5" x2="96.6" y2="1059.5"/>
<line x1="101.6" y1="1042.9" x2="96.6" y2="1042.9"/>
<line x1="101.6" y1="1031.2" x2="96.6" y2="1031.2"/>
<line x1="101.6" y1="1022.1" x2="96.6" y2="1022.1"/>
<line x1="101.6" y1="1014.6" x2="96.6" y2="1014.6"/>
<line x1="101.6" y1="1008.3" x2="96.6" y2="1008.3"/>
<line x1="101.6" y1="1002.9" x2="96.6" y2="1002.9"/>
<line x1="101.6" y1="998.1" x2="96.6" y2="998.1"/>
<line x1="101.6" y1="993.8" x2="91.6" y2="993.8"/>
<line x1="101.6" y1="965.5" x2="96.6" y2="965.5"/>
<line x1="101.6" y1="948.9" x2="96.6" y2="948.9"/>
<line x1="101.6" y1="937.2" x2="96.6" y2="937.2"/>
<line x1="101.6" y1="928.0" x2="96.6" y2="928.0"/>
<line x1="101.6" y1="920.6" x2="96.6" y2="920.6"/>
<line x1="101.6" y1="914.3" x2="96.6" y2="914.3"/>
<line x1="101.6" y1="908.9" x2="96.6" y2="908.9"/>
<line x1="101.6" y1="904.0" x2="96.6" y2="904.0"/>
<line x1="101.6" y1="899.7" x2="91.6" y2="899.7"/>
<line x1="101.6" y1="871.4" x2="96.6" y2="871.4"/>
<line x1="101.6" y1="854.9" x2="96.6" y2="854.9"/>
<line x1="101.6" y1="843.1" x2="96.6" y2="843.1"/>
<line x1="101.6" y1="834.0" x2="96.6" y2="834.0"/>
<line x1="101.6" y1="826.6" x2="96.6" y2="826.6"/>
<line x1="101.6" y1="820.3" x2="96.6" y2="820.3"/>
<line x1="101.6" y1="814.8" x2="96.6" y2="814.8"/>
<line x1="101.6" y1="810.0" x2="96.6" y2="810.0"/>
<line x1="101.6" y1="805.7" x2="91.6" y2="805.7"/>
<line x1="101.6" y1="777.4" x2="96.6" y2="777.4"/>
<line x1="101.6" y1="760.9" x2="96.6" y2="760.9"/>
<line x1="101.6" y1="749.1" x2="96.6" y2="749.1"/>
<line x1="101.6" y1="740.0" x2="96.6" y2="740.0"/>
<line x1="101.6" y1="732.6" x2="96.6" y2="732.6"/>
<line x1="101.6" y1="726.3" x2="96.6" y2="726.3"/>
<line x1="101.6" y1="720.8" x2="96.6" y2="720.8"/>
<line x1="101.6" y1="716.0" x2="96.6" y2="716.0"/>
<line x1="101.6" y1="711.7" x2="91.6" y2="711.7"/>
</g>
<text x="77.5" y="721.2" text-anchor="end" font-family="Liberation Sans, sans-serif" font-size="24.8" textLength="25.8" lengthAdjust="spacingAndGlyphs" fill="#111">10</text>
<text x="78.3" y="708.1" font-family="Liberation Sans, sans-serif" font-size="14.8" fill="#111">0</text>
<text x="71.8" y="815.2" text-anchor="end" font-family="Liberation Sans, sans-serif" font-size="24.8" textLength="25.8" lengthAdjust="spacingAndGlyphs" fill="#111">10</text>
<text x="72.6" y="802.1" font-family="Liberation Sans, sans-serif" font-size="14.8" fill="#111">-1</text>
<text x="71.8" y="909.2" text-anchor="end" font-family="Liberation Sans, sans-serif" font-size="24.8" textLength="25.8" lengthAdjust="spacingAndGlyphs" fill="#111">10</text>
<text x="72.6" y="896.1" font-family="Liberation Sans, sans-serif" font-size="14.8" fill="#111">-2</text>
<text x="71.8" y="1003.3" text-anchor="end" font-family="Liberation Sans, sans-serif" font-size="24.8" textLength="25.8" lengthAdjust="spacingAndGlyphs" fill="#111">10</text>
<text x="72.6" y="990.2" font-family="Liberation Sans, sans-serif" font-size="14.8" fill="#111">-3</text>
<text x="71.8" y="1097.3" text-anchor="end" font-family="Liberation Sans, sans-serif" font-size="24.8" textLength="25.8" lengthAdjust="spacingAndGlyphs" fill="#111">10</text>
<text x="72.6" y="1084.2" font-family="Liberation Sans, sans-serif" font-size="14.8" fill="#111">-4</text>
<text x="71.8" y="1191.3" text-anchor="end" font-family="Liberation Sans, sans-serif" font-size="24.8" textLength="25.8" lengthAdjust="spacingAndGlyphs" fill="#111">10</text>
<text x="72.6" y="1178.2" font-family="Liberation Sans, sans-serif" font-size="14.8" fill="#111">-5</text>
<text x="133.1" y="1222.8" text-anchor="end" font-family="Liberation Sans, sans-serif" font-size="24.4" fill="#111">2.0x10</text>
<text x="133.9" y="1209.6" font-family="Liberation Sans, sans-serif" font-size="15" fill="#111">3</text>
<text x="280.2" y="1222.8" text-anchor="end" font-family="Liberation Sans, sans-serif" font-size="24.4" fill="#111">1.5x10</text>
<text x="281.0" y="1209.6" font-family="Liberation Sans, sans-serif" font-size="15" fill="#111">3</text>
<text x="427.3" y="1222.8" text-anchor="end" font-family="Liberation Sans, sans-serif" font-size="24.4" fill="#111">1.0x10</text>
<text x="428.1" y="1209.6" font-family="Liberation Sans, sans-serif" font-size="15" fill="#111">3</text>
<text x="574.4" y="1222.8" text-anchor="end" font-family="Liberation Sans, sans-serif" font-size="24.4" fill="#111">5.0x10</text>
<text x="575.2" y="1209.6" font-family="Liberation Sans, sans-serif" font-size="15" fill="#111">2</text>
<text x="691" y="1222.8" text-anchor="middle" font-family="Liberation Sans, sans-serif" font-size="24.4" fill="#111">0.0</text>
<text transform="translate(25.5,964) rotate(-90)" text-anchor="middle" font-family="Liberation Sans, sans-serif" font-size="29" textLength="200" lengthAdjust="spacingAndGlyphs" fill="#111">Atomic Fraction</text>
<text x="205.2" y="1271.2" font-family="Liberation Sans, sans-serif" font-size="28.6" textLength="383" lengthAdjust="spacingAndGlyphs" fill="#111">Thickness (1x10<tspan dy="-14" font-size="16.5">15</tspan><tspan dy="14"> atoms/cm</tspan><tspan dy="-14" font-size="16.5">2</tspan><tspan dy="14">)</tspan></text>
<line x1="222.5" y1="851.4" x2="277.5" y2="851.4" stroke="#555" stroke-width="1.25"/>
<rect x="244.6" y="846.0" width="10.8" height="10.8" fill="#000"/>
<text x="284.3" y="859.4" font-family="Liberation Sans, sans-serif" font-size="24.3" fill="#111">Mg</text>
<line x1="222.5" y1="882.1" x2="277.5" y2="882.1" stroke="#ff4848" stroke-width="1.25"/>
<circle cx="250" cy="882.1" r="5.9" fill="#f00"/>
<text x="284.3" y="890.1" font-family="Liberation Sans, sans-serif" font-size="24.3" fill="#111">O</text>
<line x1="222.5" y1="913.1" x2="277.5" y2="913.1" stroke="#4848ff" stroke-width="1.25"/>
<path d="M243.1,916.8 L256.9,916.8 L250,905.1 Z" fill="#00f"/>
<text x="284.3" y="921.1" font-family="Liberation Sans, sans-serif" font-size="24.3" fill="#111">Si</text>
<line x1="222.5" y1="942.6" x2="277.5" y2="942.6" stroke="#ff9a3c" stroke-width="1.25"/>
<path d="M243.1,939.1 L256.9,939.1 L250,950.9 Z" fill="#ff8000"/>
<text x="284.3" y="950.6" font-family="Liberation Sans, sans-serif" font-size="24.3" fill="#111">Fe</text>
</svg>
</body></html>
